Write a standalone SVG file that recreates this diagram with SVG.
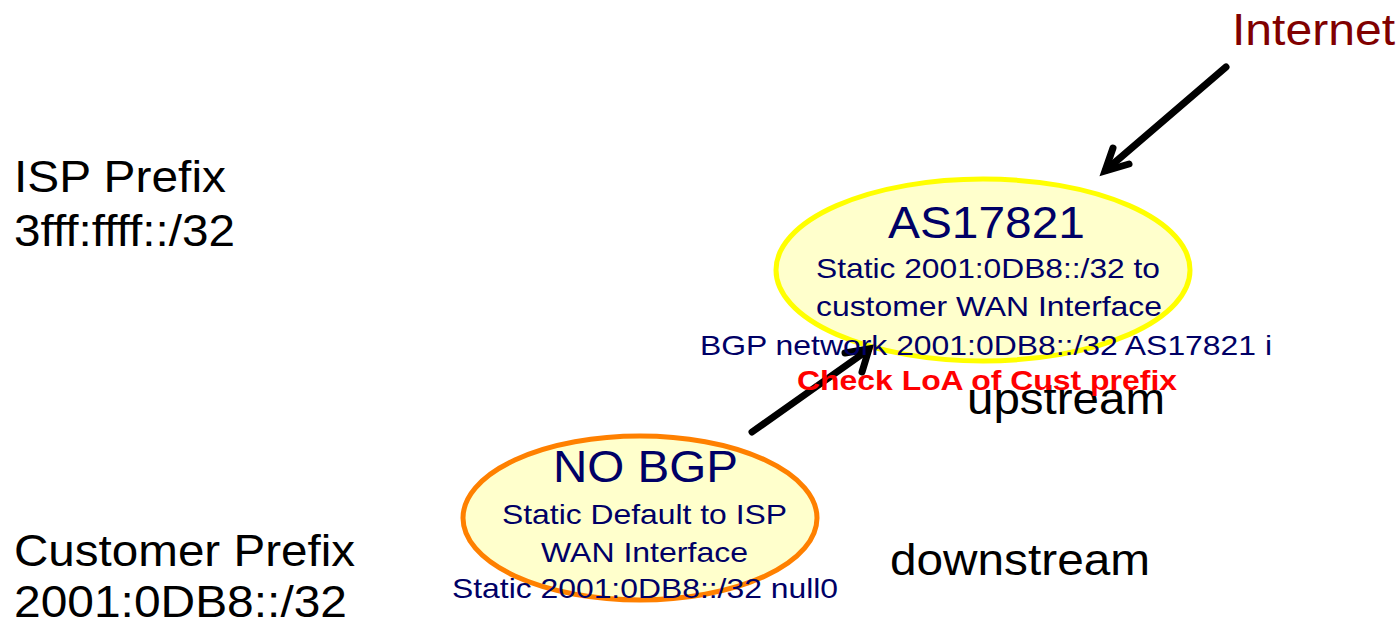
<svg xmlns="http://www.w3.org/2000/svg" width="1400" height="625" viewBox="0 0 1400 625">
<style>
text{font-family:"Liberation Sans",Arial,sans-serif}
.big{font-size:44px;fill:#000}
.node{fill:#ffffcc;stroke-width:5}
.title{font-size:44px;fill:#000066}
.sub{font-size:28px;fill:#000066}
.conn{stroke:#000;stroke-width:7;fill:none;stroke-linecap:round}
.head{stroke:#000;stroke-width:7;fill:none;stroke-linecap:round;stroke-linejoin:miter}
</style>
<rect width="1400" height="625" fill="#fff"/>
<g id="labels">
<text x="1232" y="45" textLength="163" lengthAdjust="spacingAndGlyphs" style="font-size:44px;fill:#800000">Internet</text>
<text class="big" x="14" y="192" textLength="212" lengthAdjust="spacingAndGlyphs">ISP Prefix</text>
<text class="big" x="14" y="246" textLength="221" lengthAdjust="spacingAndGlyphs">3fff:ffff::/32</text>
<text class="big" x="14" y="566" textLength="341" lengthAdjust="spacingAndGlyphs">Customer Prefix</text>
<text class="big" x="14" y="617" textLength="333" lengthAdjust="spacingAndGlyphs">2001:0DB8::/32</text>
<text class="big" x="967" y="414" textLength="198" lengthAdjust="spacingAndGlyphs">upstream</text>
<text class="big" x="890" y="575" textLength="260" lengthAdjust="spacingAndGlyphs">downstream</text>
</g>
<g id="node-as17821">
<ellipse class="node" cx="983" cy="270" rx="207" ry="91" stroke="#ffff00"/>
</g>
<g id="node-nobgp">
<ellipse class="node" cx="640" cy="518" rx="177" ry="82" stroke="#ff8000"/>
</g>
<g id="connectors">
<line class="conn" x1="1226" y1="67" x2="1106" y2="170"/>
<polyline class="head" points="1113,148 1105,171 1129,164"/>
<line class="conn" x1="752" y1="432" x2="868" y2="350"/>
<polyline class="head" points="845,353 869,349 862,372"/>
</g>
<g id="node-as17821-text">
<text class="title" x="888" y="238" textLength="197" lengthAdjust="spacingAndGlyphs">AS17821</text>
<text class="sub" x="816" y="278" textLength="344" lengthAdjust="spacingAndGlyphs">Static 2001:0DB8::/32 to</text>
<text class="sub" x="816" y="316" textLength="346" lengthAdjust="spacingAndGlyphs">customer WAN Interface</text>
<text class="sub" x="700" y="355" textLength="572" lengthAdjust="spacingAndGlyphs">BGP network 2001:0DB8::/32 AS17821 i</text>
<text class="sub" x="797" y="390" textLength="380" lengthAdjust="spacingAndGlyphs" style="fill:#ff0000;font-weight:bold">Check LoA of Cust prefix</text>
</g>
<g id="node-nobgp-text">
<text class="title" x="553" y="482" textLength="185" lengthAdjust="spacingAndGlyphs">NO BGP</text>
<text class="sub" x="502" y="524" textLength="285" lengthAdjust="spacingAndGlyphs">Static Default to ISP</text>
<text class="sub" x="541" y="562" textLength="207" lengthAdjust="spacingAndGlyphs">WAN Interface</text>
<text class="sub" x="452" y="598" textLength="386" lengthAdjust="spacingAndGlyphs">Static 2001:0DB8::/32 null0</text>
</g>
</svg>
